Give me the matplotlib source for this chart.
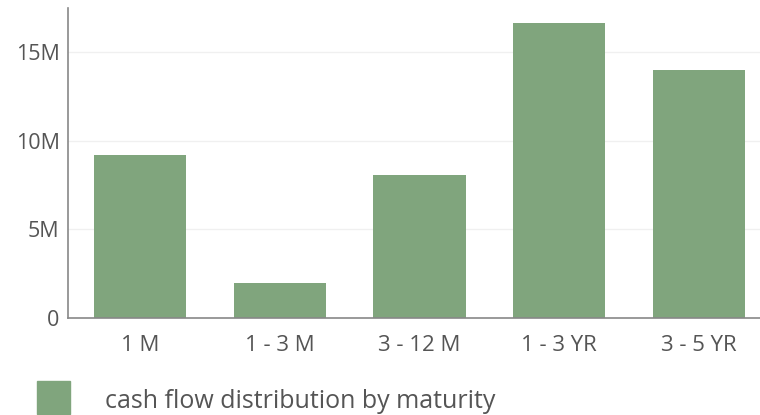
import matplotlib
matplotlib.use("Agg")
import matplotlib.pyplot as plt
from matplotlib.patches import Rectangle
from matplotlib.ticker import FuncFormatter

categories = ["1 M", "1 - 3 M", "3 - 12 M", "1 - 3 YR", "3 - 5 YR"]
values = [9.2e6, 1.97e6, 8.07e6, 16.62e6, 13.98e6]
series_name = "cash flow distribution by maturity"
y_ticks = [0, 5e6, 10e6, 15e6]

bar_color = "#80a57d"
text_color = "#555555"

plt.rcParams["font.family"] = ["Open Sans", "DejaVu Sans"]

fig = plt.figure(figsize=(7.6, 4.15), dpi=100)
ax = fig.add_axes([68 / 760, 97 / 415, 712 / 760, 310 / 415])

x = list(range(len(categories)))
ax.bar(x, values, width=0.66, color=bar_color, zorder=2)

ax.set_xlim(-0.515, 4.58)
ax.set_ylim(0, 17.48e6)
ax.set_yticks(y_ticks)
ax.yaxis.set_major_formatter(FuncFormatter(lambda v, p: "0" if v == 0 else f"{v/1e6:.0f}M"))
ax.set_xticks(x)
ax.set_xticklabels(categories)

ax.grid(axis="y", color="#f0f0f0", linewidth=1, zorder=0)
ax.set_axisbelow(True)
for s in ["top", "right"]:
    ax.spines[s].set_visible(False)
for s in ["left", "bottom"]:
    ax.spines[s].set_color("#888888")
    ax.spines[s].set_linewidth(1.2)

ax.tick_params(axis="y", length=0, pad=6, labelsize=15.5, labelcolor=text_color)
ax.tick_params(axis="x", length=0, pad=12, labelsize=16, labelcolor=text_color)

# legend drawn in figure coordinates below the axis
fig.patches.append(Rectangle((37 / 760, 1 / 415), 33 / 760, 33 / 415,
                             transform=fig.transFigure, color=bar_color))
fig.text(105 / 760, 14 / 415, series_name, fontsize=18, color=text_color,
         va="center", ha="left")

fig.savefig("out.png", dpi=100)
